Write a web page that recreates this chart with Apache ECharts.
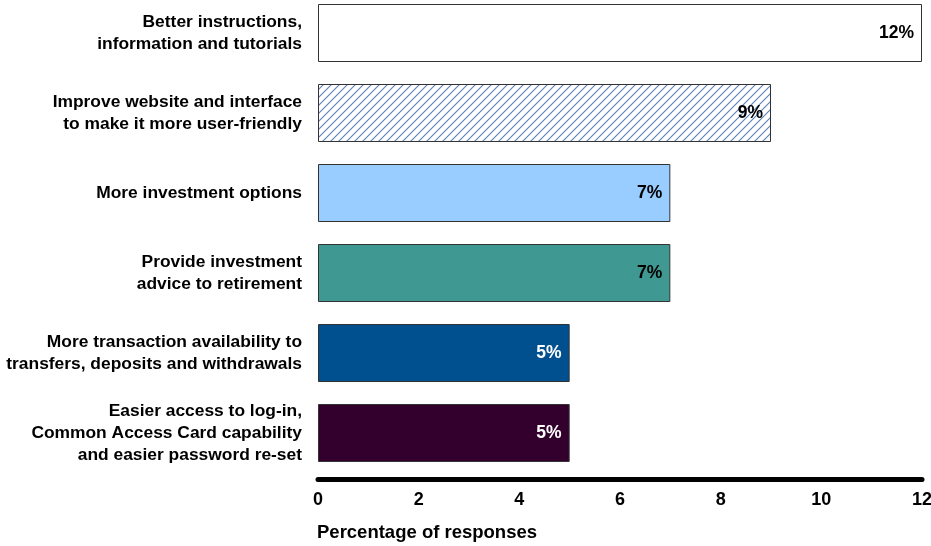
<!DOCTYPE html>
<html>
<head>
<meta charset="utf-8">
<script src="https://cdn.jsdelivr.net/npm/echarts@6/dist/echarts.min.js"></script>
<style>
  html, body { margin: 0; padding: 0; background: #fff; }
  #chart { width: 931px; height: 546px; }
</style>
</head>
<body>
<div id="chart"></div>
<script>
// Survey answers, top to bottom
const categories = [
  'Better instructions,\ninformation and tutorials',
  'Improve website and interface\nto make it more user-friendly',
  'More investment options',
  'Provide investment\nadvice to retirement',
  'More transaction availability to\ntransfers, deposits and withdrawals',
  'Easier access to log-in,\nCommon Access Card capability\nand easier password re-set'
];
const values = [12, 9, 7, 7, 5, 5];
const xTicks = [0, 2, 4, 6, 8, 10, 12];

// Diagonal hatch tile for the second bar
function hatchTile() {
  const c = document.createElement('canvas');
  c.width = 8; c.height = 8;
  const g = c.getContext('2d');
  g.fillStyle = '#ffffff';
  g.fillRect(0, 0, 8, 8);
  g.strokeStyle = '#5b7fb8';
  g.lineWidth = 1.1;
  g.beginPath();
  g.moveTo(-1, 9); g.lineTo(9, -1);
  g.moveTo(-1, 1); g.lineTo(1, -1);
  g.moveTo(7, 9); g.lineTo(9, 7);
  g.stroke();
  return c;
}

const fills = ['#ffffff', { image: hatchTile(), repeat: 'repeat' }, '#99ccff', '#3f9992', '#004f8f', '#33002e'];
const labelInk = ['#000', '#000', '#000', '#000', '#fff', '#fff'];

const chart = echarts.init(document.getElementById('chart'), null, { renderer: 'canvas' });
const font = 'Liberation Sans, Arial, sans-serif';

chart.setOption({
  animation: false,
  grid: { left: 318, right: 9, top: -7, height: 480, containLabel: false, outerBoundsMode: 'none' },
  xAxis: {
    type: 'value',
    min: xTicks[0],
    max: xTicks[xTicks.length - 1],
    interval: 2,
    offset: 6,
    splitLine: { show: false },
    axisTick: { show: false },
    axisLine: { show: true, lineStyle: { color: '#000', width: 5 } },
    axisLabel: { color: '#000', fontFamily: font, fontWeight: 'bold', fontSize: 18, margin: 12 },
    name: 'Percentage of responses',
    nameLocation: 'start',
    nameGap: 1,
    nameTextStyle: {
      color: '#000', fontFamily: font, fontWeight: 'bold', fontSize: 18.5,
      align: 'left', verticalAlign: 'top', padding: [44, 0, 0, 0]
    }
  },
  yAxis: {
    type: 'category',
    inverse: true,
    data: categories,
    axisLine: { show: false },
    axisTick: { show: false },
    axisLabel: {
      color: '#000', fontFamily: font, fontWeight: 'bold', fontSize: 17.4,
      lineHeight: 22, margin: 16, align: 'right', padding: [5, 0, 0, 0]
    }
  },
  series: [{
    type: 'bar',
    barWidth: 58,
    data: values.map((v, i) => ({
      value: v,
      itemStyle: { color: fills[i], borderColor: '#333', borderWidth: 1 },
      label: { color: labelInk[i] }
    })),
    label: {
      show: true,
      position: 'insideRight',
      distance: 8,
      fontFamily: font,
      fontWeight: 'bold',
      fontSize: 17.5,
      formatter: p => p.value + '%'
    }
  }]
});
</script>
</body>
</html>
